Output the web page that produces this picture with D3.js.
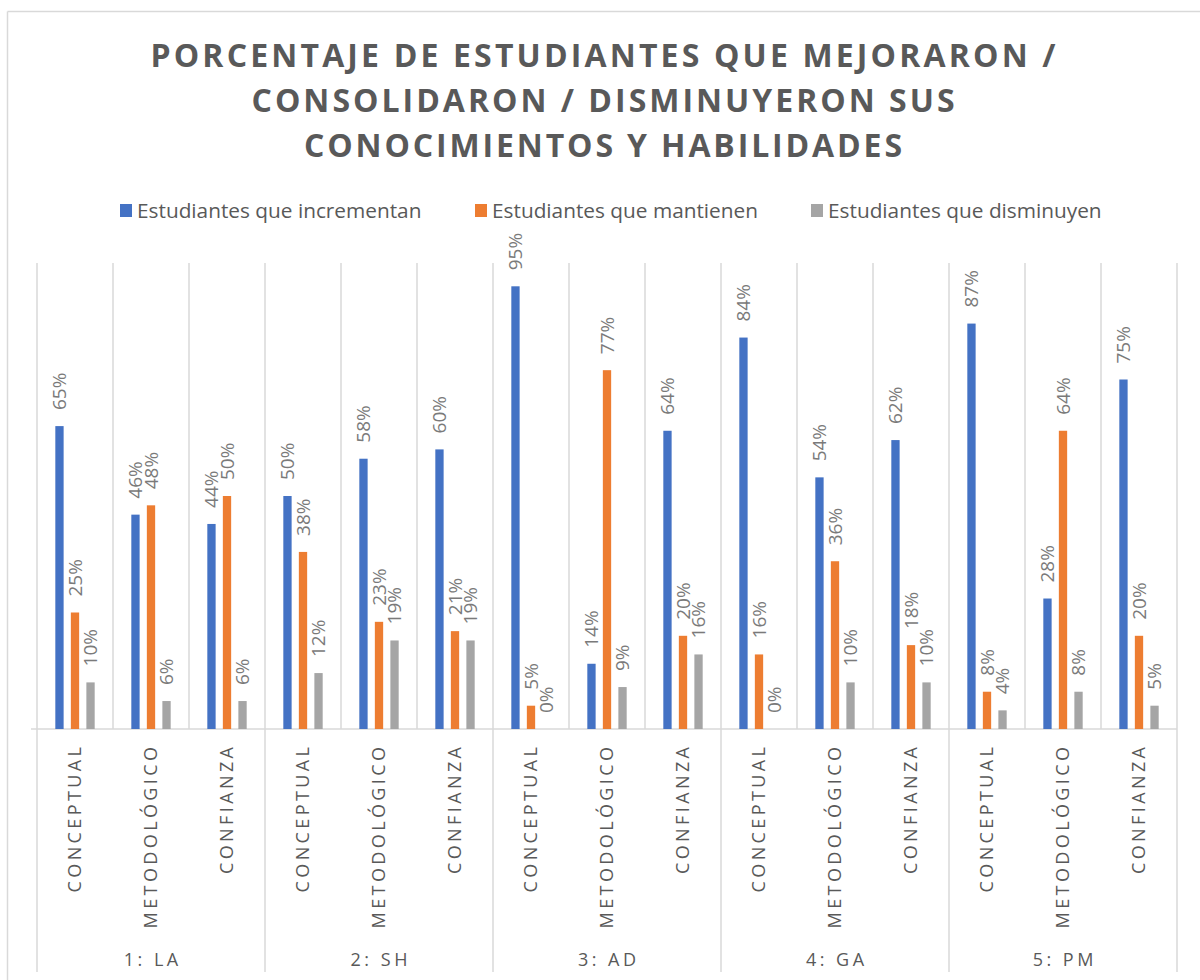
<!DOCTYPE html>
<html>
<head>
<meta charset="utf-8">
<script src="https://cdn.jsdelivr.net/npm/d3@7"></script>
<style>
  body { margin: 0; background: #fff; }
  svg { display: block; font-family: "Open Sans", sans-serif; }
</style>
</head>
<body>
<div id="plot"></div>
<script>
// data
const groups = ["1: LA", "2: SH", "3: AD", "4: GA", "5: PM"];
const dimensions = ["CONCEPTUAL", "METODOLÓGICO", "CONFIANZA"];
const seriesNames = ["Estudiantes que incrementan", "Estudiantes que mantienen", "Estudiantes que disminuyen"];
const incrementan = [65, 46, 44, 50, 58, 60, 95, 14, 64, 84, 54, 62, 87, 28, 75];
const mantienen   = [25, 48, 50, 38, 23, 21, 5, 77, 20, 16, 36, 18, 8, 64, 20];
const disminuyen  = [10, 6, 6, 12, 19, 19, 0, 9, 16, 0, 10, 10, 4, 8, 5];
const titleLines = ["PORCENTAJE DE ESTUDIANTES QUE MEJORARON /", "CONSOLIDARON / DISMINUYERON SUS", "CONOCIMIENTOS Y HABILIDADES"];

const colors = ["#4472C4", "#ED7D31", "#A5A5A5"];
const gridColor = "#d9d9d9";
const textColor = "#595959";

const W = 1200, H = 980;
const plot = { left: 37, right: 1177, top: 263, bottom: 729 };

// one row per category (group x dimension)
const cats = [];
groups.forEach(g => dimensions.forEach(d => cats.push({ key: g + "|" + d, group: g, dim: d })));
const values = [incrementan, mantienen, disminuyen];

const svg = d3.select("div#plot").append("svg")
    .attr("width", W)
    .attr("height", H);

// chart frame
svg.append("line").attr("x1", 7.5).attr("x2", W).attr("y1", 11.5).attr("y2", 11.5)
    .attr("stroke", gridColor).attr("stroke-width", 1.5);
svg.append("line").attr("x1", 7.5).attr("x2", 7.5).attr("y1", 11.5).attr("y2", H)
    .attr("stroke", gridColor).attr("stroke-width", 1.5);

const x = d3.scaleBand()
    .domain(cats.map(c => c.key))
    .range([plot.left, plot.right])
    .padding(0);

const xs = d3.scaleBand()
    .domain(d3.range(seriesNames.length))
    .range([0, x.bandwidth()])
    .paddingInner(0.465)
    .paddingOuter(1.18);

const y = d3.scaleLinear()
    .domain([0, 100])
    .range([plot.bottom, plot.top]);

// title
svg.append("g").selectAll("text")
  .data(titleLines)
  .join("text")
    .attr("x", 603)
    .attr("y", (d, i) => 67 + i * 45)
    .attr("text-anchor", "middle")
    .attr("font-size", 32)
    .attr("font-weight", "bold")
    .attr("fill", textColor)
    .attr("textLength", (d, i) => [905, 703, 598][i])
    .attr("lengthAdjust", "spacing")
    .text(d => d);

// legend
const legendX = [120, 475, 811];
const legend = svg.append("g").selectAll("g")
  .data(seriesNames)
  .join("g")
    .attr("transform", (d, i) => `translate(${legendX[i]},204)`);
legend.append("rect")
    .attr("width", 12).attr("height", 13)
    .attr("fill", (d, i) => colors[i]);
legend.append("text")
    .attr("x", 17).attr("y", 13.5)
    .attr("font-size", 20.8)
    .attr("fill", textColor)
    .text(d => d);

// vertical category gridlines
const bounds = cats.map(c => x(c.key)).concat([plot.right]);
svg.append("g").selectAll("line")
  .data(bounds)
  .join("line")
    .attr("x1", d => d).attr("x2", d => d)
    .attr("y1", plot.top).attr("y2", plot.bottom)
    .attr("stroke", gridColor).attr("stroke-width", 1.5);

// group separators below axis
const groupBounds = groups.map(g => x(g + "|" + dimensions[0])).concat([plot.right]);
svg.append("g").selectAll("line")
  .data(groupBounds)
  .join("line")
    .attr("x1", d => d).attr("x2", d => d)
    .attr("y1", plot.bottom).attr("y2", 972)
    .attr("stroke", gridColor).attr("stroke-width", 1.5);

// baseline
svg.append("line")
    .attr("x1", plot.left - 6).attr("x2", plot.right)
    .attr("y1", plot.bottom).attr("y2", plot.bottom)
    .attr("stroke", gridColor).attr("stroke-width", 1.5);

// bars + labels
const series = svg.append("g").selectAll("g")
  .data(values)
  .join("g")
    .attr("fill", (d, i) => colors[i]);

series.each(function(vals, si) {
  const g = d3.select(this);
  g.selectAll("rect")
    .data(vals)
    .join("rect")
      .attr("x", (d, i) => x(cats[i].key) + xs(si))
      .attr("width", xs.bandwidth())
      .attr("y", d => y(d))
      .attr("height", d => y(0) - y(d));

  g.selectAll("text")
    .data(vals)
    .join("text")
      .attr("transform", (d, i) => {
        const cx = x(cats[i].key) + xs(si) + xs.bandwidth() / 2;
        return `translate(${cx},${y(d) - 16}) rotate(-90)`;
      })
      .attr("dy", "0.36em")
      .attr("font-size", 19)
      .attr("fill", "#7a7a7a")
      .text(d => d + "%");
});

// category labels
svg.append("g").selectAll("text")
  .data(cats)
  .join("text")
    .attr("transform", d => `translate(${x(d.key) + x.bandwidth() / 2},743.6) rotate(-90)`)
    .attr("dy", "0.36em")
    .attr("text-anchor", "end")
    .attr("font-size", 18)
    .attr("letter-spacing", 3.4)
    .attr("fill", textColor)
    .text(d => d.dim);

// group labels
svg.append("g").selectAll("text")
  .data(groups)
  .join("text")
    .attr("x", (d, i) => (groupBounds[i] + groupBounds[i + 1]) / 2 + 1.75)
    .attr("y", 966)
    .attr("text-anchor", "middle")
    .attr("font-size", 18)
    .attr("letter-spacing", 3.5)
    .attr("fill", textColor)
    .text(d => d);
</script>
</body>
</html>
